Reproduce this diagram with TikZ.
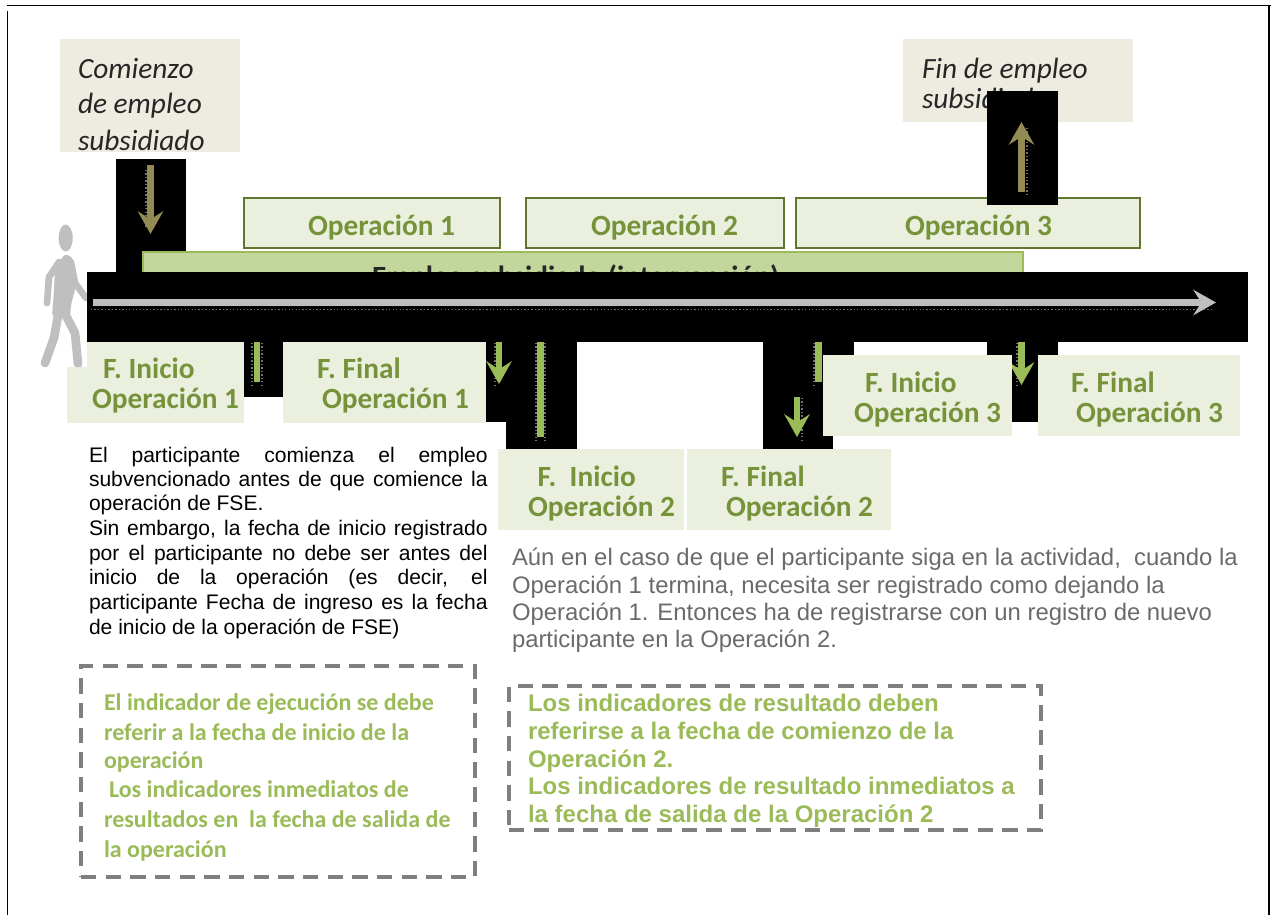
\documentclass[tikz,border=0pt]{standalone}
\usepackage{fontspec}
\setmainfont{Liberation Sans}
\newfontfamily\calib{Carlito}
\usetikzlibrary{arrows.meta}
\definecolor{opfill}{HTML}{EBF0DE}
\definecolor{opline}{HTML}{5F7530}
\definecolor{optext}{HTML}{76933C}
\definecolor{barfill}{HTML}{C3D69B}
\definecolor{barline}{HTML}{9BBB59}
\definecolor{sand}{HTML}{EEECE1}
\definecolor{olive}{HTML}{948A54}
\definecolor{greyline}{HTML}{BFBFBF}
\definecolor{dashgrey}{HTML}{7F7F7F}
\definecolor{paragrey}{HTML}{6A6A6A}
\tikzset{
  rbox/.style={inner sep=0pt,outer sep=0pt,anchor=center},
  opbox/.style={rbox,draw=opline,fill=opfill,line width=1.9pt},
  palebox/.style={rbox,fill=opfill},
  sandbox/.style={rbox,fill=sand},
  blackbox/.style={rbox,fill=black},
  greenbar/.style={rbox,fill=barfill,draw=barline,line width=1.9pt},
  dashbox/.style={rbox,draw=dashgrey,line width=3.4pt,dash pattern=on 11.5pt off 7pt},
  lab/.style={inner sep=0pt,outer sep=0pt,anchor=base west},
  ophead/.style={lab,font=\calib\fontsize{22}{26}\selectfont\bfseries,text=optext},
  note/.style={lab,font=\calib\fontsize{22}{26}\selectfont\itshape,text=black!85},
  para/.style={lab,font=\fontsize{15.8}{18}\selectfont,text=black},
  paragr/.style={lab,font=\fontsize{17.9}{20}\selectfont,text=paragrey},
  dashcal/.style={lab,font=\calib\fontsize{18}{21}\selectfont\bfseries,text=barline},
  dashar/.style={lab,font=\fontsize{18}{21}\selectfont\bfseries,text=barline},
  tipped/.style={line width=4.8pt,-{Stealth[length=17pt,width=19pt,inset=6pt]}},
  greenarr/.style={tipped,draw=barline},
  bigtip/.style={tipped,draw=olive},
  shortgreen/.style={draw=barline,line width=4.8pt},
  speck/.style={draw=black!55,line width=1pt,dash pattern=on 1pt off 1.6pt},
  body/.style={draw=greyline,line cap=round,line join=round},
}
\newcommand{\bx}[6]{\pgfmathsetmacro{\bw}{(#5-#3)*0.75}\pgfmathsetmacro{\bh}{(#6-#4)*0.75}%
  \node[#2,minimum width=\bw pt,minimum height=\bh pt] (#1) at ({(#3+#5)/2},{(#4+#6)/2}) {};}
\newcommand{\tl}[5]{\node[#2] (#1) at (#3,#4) {#5};}
\newcommand{\jl}[4]{\node[para] (#1) at (89,#2) {\hbox to #3pt{\spaceskip=.278em plus 1fil minus .1em\relax #4}};}
\newcommand{\spk}[5]{\coordinate (#1a) at (#2,#3); \coordinate (#1b) at (#4,#5); \draw[speck] (#1a)--(#1b);}
\begin{document}
\begin{tikzpicture}[x=0.75pt,y=-0.75pt]
\useasboundingbox (0,0) rectangle (1271,915);
% frame
\coordinate (ftl) at (7,5.5); \coordinate (ftr) at (1271,5.5);
\coordinate (fla) at (7.5,11); \coordinate (flb) at (7.5,915);
\coordinate (fra) at (1269,5.5); \coordinate (frb) at (1269,915);
\draw[line width=1.4pt] (ftl)--(ftr) (fla)--(flb) (fra)--(frb);
% person
\fill[greyline] (65.7,238) ellipse (7 and 13.5);
\fill[greyline,rounded corners=2pt] (65,254) -- (72,257) -- (77,282) -- (71,305) -- (70,316) -- (52,316) -- (54,290) -- (55,268) -- cycle;
\draw[body,line width=5pt] (59,262) -- (49,277) -- (47,303);
\draw[body,line width=5pt] (71,262) -- (75,283) -- (86,298);
\draw[body,line width=6.5pt] (59,310) -- (54,338) -- (45,363);
\draw[body,line width=6.5pt] (62,308) -- (75,333) -- (78,364);
% top notes
\bx{cbox}{sandbox}{60}{39}{240}{152}
\tl{c1}{note}{78}{78}{Comienzo}
\tl{c2}{note}{78}{113}{de empleo}
\tl{c3}{note}{78}{150}{subsidiado}
\bx{fbox}{sandbox}{903}{39}{1133}{122}
\tl{f1}{note}{922}{78}{Fin de empleo}
\tl{f2}{note}{922}{108}{subsidiado}
% first black patch lies under the bar
\bx{k1}{blackbox}{116}{159}{186}{272}
% operations
\bx{op1}{opbox}{244}{198}{500}{248}
\bx{op2}{opbox}{526}{198}{784}{248}
\bx{op3}{opbox}{796}{198}{1140}{248}
\tl{op1t}{ophead}{308}{235}{Operación 1}
\tl{op2t}{ophead}{591}{235}{Operación 2}
\tl{op3t}{ophead}{905}{235}{Operación 3}
% subsidised employment bar
\bx{ebar}{greenbar}{143}{252}{1023}{290}
\tl{ebart}{ophead,text=black!85}{372}{286}{Empleo subsidiado (intervención)}
% black patches
\bx{k2}{blackbox}{987}{91}{1058}{205}
\bx{k3}{blackbox}{87}{272}{1248}{342}
\bx{k4}{blackbox}{244}{342}{283}{397}
\bx{k5}{blackbox}{486}{342}{506}{422}
\bx{k6}{blackbox}{506}{342}{577}{449}
\bx{k7}{blackbox}{763}{342}{833}{449}
\bx{k8}{blackbox}{833}{342}{854}{355}
\bx{k9}{blackbox}{987}{342}{1058}{355}
\bx{k10}{blackbox}{1012}{355}{1038}{422}
% timeline
\coordinate (ta) at (93,302.5); \coordinate (tb) at (1216,302.5);
\spk{s0}{91}{309.5}{1214}{309.5}
\draw[tipped,draw=greyline] (ta)--(tb);
% specks beside the arrows
\spk{s1}{146}{170}{146}{228}
\spk{s2}{1027}{128}{1027}{195}
\spk{s3}{252}{343}{252}{386}
\spk{s4}{262}{343}{262}{386}
\spk{s5}{495}{343}{495}{388}
\spk{s6}{536}{343}{536}{443}
\spk{s7}{545}{343}{545}{443}
\spk{s8}{814}{343}{814}{386}
\spk{s9}{802}{398}{802}{442}
\spk{s10}{1017}{343}{1017}{388}
% arrows
\coordinate (a1) at (150.5,165); \coordinate (a1b) at (150.5,234);
\draw[bigtip] (a1)--(a1b);
\coordinate (a2) at (1021.5,192); \coordinate (a2b) at (1021.5,122);
\draw[bigtip] (a2)--(a2b);
\coordinate (a3) at (257,342); \coordinate (a3b) at (257,382);
\draw[shortgreen] (a3)--(a3b);
\coordinate (a4) at (499,342); \coordinate (a4b) at (499,384);
\draw[greenarr] (a4)--(a4b);
\coordinate (a5) at (540.5,342); \coordinate (a5b) at (540.5,437);
\draw[shortgreen] (a5)--(a5b);
\coordinate (a6) at (818.5,342); \coordinate (a6b) at (818.5,382);
\draw[shortgreen] (a6)--(a6b);
\coordinate (a7) at (797,397); \coordinate (a7b) at (797,437);
\draw[greenarr] (a7)--(a7b);
\coordinate (a8) at (1021.5,342); \coordinate (a8b) at (1021.5,385);
\draw[greenarr] (a8)--(a8b);
% date labels
\bx{d1a}{palebox}{67}{367}{244}{423}
\bx{d1b}{palebox}{87}{342}{244}{368}
\tl{d1t}{ophead}{103}{378}{F. Inicio}
\tl{d1u}{ophead}{92}{408}{Operación 1}
\bx{d2}{palebox}{283}{342}{486}{423}
\tl{d2t}{ophead}{317}{378}{F. Final}
\tl{d2u}{ophead}{322}{408}{Operación 1}
\bx{d3}{palebox}{498}{449}{684}{530}
\tl{d3t}{ophead}{537.5}{486}{F.\ \ Inicio}
\tl{d3u}{ophead}{528}{516}{Operación 2}
\bx{d4}{palebox}{687}{449}{891}{530}
\tl{d4t}{ophead}{721}{486}{F. Final}
\tl{d4u}{ophead}{726}{516}{Operación 2}
\bx{d5}{palebox}{823}{355}{1012}{436}
\tl{d5t}{ophead}{865}{392}{F. Inicio}
\tl{d5u}{ophead}{854}{422}{Operación 3}
\bx{d6}{palebox}{1038}{355}{1240}{436}
\tl{d6t}{ophead}{1071}{392}{F. Final}
\tl{d6u}{ophead}{1076}{422}{Operación 3}
% left paragraph
\jl{p1}{462}{299}{El participante comienza el empleo}
\jl{p2}{486}{299}{subvencionado antes de que comience la}
\tl{p3}{para}{89}{510}{operación de FSE.}
\jl{p4}{535}{299}{Sin embargo, la fecha de inicio registrado}
\jl{p5}{560}{299}{por el participante no debe ser antes del}
\jl{p6}{584}{299}{inicio de la operación (es decir, el}
\jl{p7}{609}{299}{participante Fecha de ingreso es la fecha}
\tl{p8}{para}{89}{634}{de inicio de la operación de FSE)}
% right paragraph
\tl{q1}{paragr}{512}{565}{Aún en el caso de que el participante siga en la actividad,\ \ cuando la}
\tl{q2}{paragr}{512}{593}{Operación 1 termina, necesita ser registrado como dejando la}
\tl{q3}{paragr}{512}{620}{Operación 1. Entonces ha de registrarse con un registro de nuevo}
\tl{q4}{paragr}{512}{647}{participante en la Operación 2.}
% dashed boxes
\bx{db1}{dashbox}{81}{666}{475}{877}
\tl{r1}{dashcal}{104}{710}{El indicador de ejecución se debe}
\tl{r2}{dashcal}{104}{740}{referir a la fecha de inicio de la}
\tl{r3}{dashcal}{104}{768}{operación}
\tl{r4}{dashcal}{109}{797}{Los indicadores inmediatos de}
\tl{r5}{dashcal}{104}{827}{resultados en\ \ la fecha de salida de}
\tl{r6}{dashcal}{104}{857}{la operación}
\bx{db2}{dashbox}{509}{686}{1041}{830}
\tl{s1t}{dashar}{528}{711}{Los indicadores de resultado deben}
\tl{s2t}{dashar}{528}{739}{referirse a la fecha de comienzo de la}
\tl{s3t}{dashar}{528}{767}{Operación 2.}
\tl{s4t}{dashar}{528}{794}{Los indicadores de resultado inmediatos a}
\tl{s5t}{dashar}{528}{822}{la fecha de salida de la Operación 2}
\end{tikzpicture}
\end{document}
